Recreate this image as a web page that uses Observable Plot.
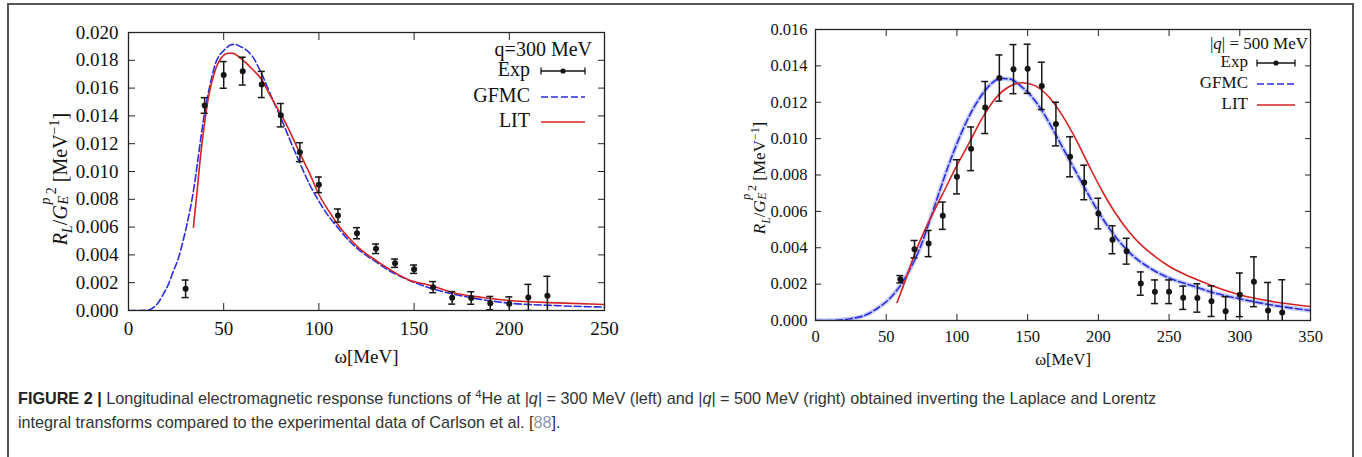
<!DOCTYPE html>
<html>
<head>
<meta charset="utf-8">
<script src="https://cdn.jsdelivr.net/npm/d3@7"></script>
<script src="https://cdn.jsdelivr.net/npm/@observablehq/plot@0.6"></script>
<style>
  html, body { margin: 0; padding: 0; background: #fff; }
  body { width: 1362px; height: 457px; overflow: hidden; position: relative; }
  #frame { position: absolute; left: 7px; top: 3px; width: 1347px; height: 480px; border: 2px solid #555; box-sizing: border-box; }
  .panel { position: absolute; top: 0; }
  .ylab { position: absolute; white-space: nowrap; font-family: 'Liberation Serif', serif; color: #111;
          transform: translate(-50%, -50%) rotate(-90deg); line-height: 1; }
  .ylab sub, .ylab sup { font-size: 0.7em; }
  .ss { display: inline-block; position: relative; width: 0.55em; height: 1em; vertical-align: baseline; }
  .ss i { position: absolute; left: 0.05em; font-size: 0.7em; line-height: 1; }
  .ss .up { top: -0.55em; }
  .ss .dn { top: 0.75em; }
  #caption { position: absolute; left: 18px; top: 382px; font-family: 'Liberation Sans', Arial, sans-serif; font-size: 16.2px;
             line-height: 24px; color: #333; white-space: nowrap; }
  #caption b { color: #222; }
  #caption .ref { color: #8a96a8; }
</style>
</head>
<body>
<div id="frame"></div>
<div id="left" class="panel" style="left:0px"></div>
<div id="right" class="panel" style="left:700px"></div>
<div class="ylab" style="left:60px; top:179px; font-size:20px"><i>R</i><sub><i>L</i></sub>/<i>G</i><span class="ss"><i class="up">p</i><i class="dn">E</i></span><sup style="vertical-align:0.75em">2</sup> [MeV<sup>−1</sup>]</div>
<div class="ylab" style="left:760px; top:178px; font-size:17px"><i>R</i><sub><i>L</i></sub>/<i>G</i><span class="ss"><i class="up">p</i><i class="dn">E</i></span><sup style="vertical-align:0.75em">2</sup> [MeV<sup>−1</sup>]</div>
<div id="caption"><b>FIGURE 2 |</b> Longitudinal electromagnetic response functions of <sup style="font-size:0.7em">4</sup>He at |<i>q</i>| = 300 MeV (left) and |<i>q</i>| = 500 MeV (right) obtained inverting the Laplace and Lorentz<br>integral transforms compared to the experimental data of Carlson et al. [<span class="ref">88</span>].</div>
<script>
// ---------- Left panel data (q = 300 MeV) ----------
const xTicks1 = [0, 50, 100, 150, 200, 250];
const yTicks1 = [0, 0.002, 0.004, 0.006, 0.008, 0.010, 0.012, 0.014, 0.016, 0.018, 0.020];
const expW1 = [30, 40, 50, 60, 70, 80, 90, 100, 110, 120, 130, 140, 150, 160, 170, 180, 190, 200, 210, 220];
const expV1 = [0.00156, 0.01475, 0.01695, 0.01722, 0.01626, 0.01405, 0.01139, 0.00904, 0.00683, 0.00556, 0.00444, 0.0034, 0.00297, 0.00168, 0.00091, 0.0009, 0.00053, 0.00048, 0.00094, 0.00106];
const expE1 = [0.00063, 0.00056, 0.00096, 0.001, 0.00094, 0.00084, 0.00068, 0.00056, 0.00047, 0.0004, 0.00034, 0.0003, 0.0003, 0.0004, 0.00045, 0.00045, 0.00048, 0.0005, 0.00094, 0.0014];
const gfmcW1 = [0, 5, 10, 13, 15.8, 18, 21, 23.5, 26.3, 29, 31.5, 33.5, 35, 36.8, 38.5, 40.2, 42, 43.8, 45.5, 48, 50.8, 53.5, 56, 58.5, 61.3, 65, 70, 75, 80.5, 85, 91, 95, 99.8, 105, 110.3, 116, 122.5, 130, 136.6, 147, 158.6, 170, 185, 200, 225, 250];
const gfmcV1 = [0, 0, 0.00002, 0.0002, 0.0006, 0.0011, 0.0019, 0.0028, 0.0038, 0.0052, 0.0067, 0.0081, 0.0094, 0.0112, 0.0129, 0.0144, 0.0157, 0.0168, 0.0177, 0.0184, 0.0188, 0.0191, 0.01915, 0.019, 0.0188, 0.0183, 0.017, 0.0154, 0.0137, 0.0122, 0.0103, 0.0091, 0.0079, 0.0068, 0.0059, 0.005, 0.0042, 0.0035, 0.0029, 0.0022, 0.0016, 0.0012, 0.0008, 0.00053, 0.00035, 0.00024];
const litW1 = [34.1, 35.9, 37.6, 39.4, 42, 45.5, 49, 52.5, 55, 57.8, 61, 64.8, 70, 73.5, 78, 82.3, 87, 91, 95, 99.8, 105, 110.3, 116, 122.5, 130, 136.6, 147, 158.6, 170, 185, 200, 225, 250];
const litV1 = [0.006, 0.0084, 0.0108, 0.0129, 0.01535, 0.01727, 0.01822, 0.01851, 0.0185, 0.01827, 0.0179, 0.01739, 0.0166, 0.0157, 0.0146, 0.01355, 0.0122, 0.01103, 0.0099, 0.0084, 0.0072, 0.00612, 0.0052, 0.00432, 0.0036, 0.003, 0.00221, 0.0018, 0.0013, 0.00095, 0.00072, 0.00055, 0.00043];

// ---------- Right panel data (|q| = 500 MeV) ----------
const xTicks2 = [0, 50, 100, 150, 200, 250, 300, 350];
const yTicks2 = [0, 0.002, 0.004, 0.006, 0.008, 0.010, 0.012, 0.014, 0.016];
const expW2 = [60, 70, 80, 90, 100, 110, 120, 130, 140, 150, 160, 170, 180, 190, 200, 210, 220, 230, 240, 250, 260, 270, 280, 290, 300, 310, 320, 330];
const expV2 = [0.00227, 0.00392, 0.00423, 0.00576, 0.0079, 0.00944, 0.01171, 0.01333, 0.01382, 0.01384, 0.0129, 0.0108, 0.009, 0.00759, 0.00588, 0.00444, 0.00381, 0.00203, 0.00158, 0.00158, 0.00125, 0.00124, 0.00106, 0.00051, 0.00141, 0.00213, 0.00055, 0.00044];
const expE2 = [0.0002, 0.00048, 0.00072, 0.00075, 0.00094, 0.0012, 0.00143, 0.00127, 0.00135, 0.00135, 0.0013, 0.0012, 0.0011, 0.00095, 0.00084, 0.00077, 0.00071, 0.00064, 0.00065, 0.00065, 0.00064, 0.00078, 0.00084, 0.0008, 0.0012, 0.00137, 0.00154, 0.0018];
const gfmcW2 = [0, 10, 24.7, 34.2, 43.6, 53, 60.1, 67.1, 74.2, 81.3, 88.4, 95.4, 102.5, 109.6, 116.7, 123.7, 130.8, 137.9, 145, 152, 159.1, 166.2, 173.2, 180.3, 187.4, 194.5, 201.5, 208.6, 215.7, 222.8, 236.9, 251, 265.2, 280, 300, 325, 350];
const gfmcV2 = [0, 0, 0.0001, 0.00026, 0.00066, 0.00125, 0.00194, 0.00286, 0.00405, 0.00561, 0.00726, 0.00881, 0.01019, 0.01138, 0.0123, 0.01298, 0.01331, 0.01327, 0.0129, 0.01239, 0.01166, 0.01074, 0.00973, 0.00872, 0.00771, 0.00671, 0.00579, 0.00497, 0.00427, 0.00368, 0.00286, 0.00231, 0.00194, 0.00156, 0.00119, 0.00082, 0.00055];
const litW2 = [57.7, 63.6, 70.7, 80.1, 89.5, 98.9, 108.4, 117.8, 127.2, 136.7, 146.1, 155.5, 164.9, 174.4, 183.8, 193.2, 202.7, 212.1, 221.5, 231, 240.4, 250, 265, 280, 300, 325, 350];
const litV2 = [0.00099, 0.00222, 0.00378, 0.00543, 0.00689, 0.00836, 0.00973, 0.01111, 0.01221, 0.01285, 0.01307, 0.0129, 0.0123, 0.01129, 0.01001, 0.00854, 0.00712, 0.0059, 0.0049, 0.0041, 0.0035, 0.00298, 0.0024, 0.00193, 0.00142, 0.00102, 0.00077];

const zip2 = (W, V) => W.map((w, i) => ({w, v: V[i]}));
const zip3 = (W, V, E) => W.map((w, i) => ({w, v: V[i], e: E[i]}));

const BLUE = "#2a2ee0", RED = "#d42222", INK = "#151515";

function panel(cfg) {
  const exp = zip3(cfg.expW, cfg.expV, cfg.expE);
  const gfmc = zip2(cfg.gW, cfg.gV);
  const lit = zip2(cfg.lW, cfg.lV);
  const marks = [];
  if (cfg.band) marks.push(Plot.line(gfmc, {x: "w", y: "v", stroke: "#9aa4f4", strokeOpacity: 0.55, strokeWidth: 4.5, curve: "monotone-x", clip: true}));
  marks.push(
    Plot.line(gfmc, {x: "w", y: "v", stroke: BLUE, strokeWidth: 1.6, strokeDasharray: "7,3", curve: "monotone-x", clip: true}),
    Plot.line(lit, {x: "w", y: "v", stroke: RED, strokeWidth: 1.6, curve: "monotone-x", clip: true}),
    Plot.ruleX(exp, {x: "w", y1: d => d.v - d.e, y2: d => d.v + d.e, stroke: INK, strokeWidth: 1.5, clip: true}),
    Plot.ruleY(exp, {y: d => d.v + d.e, x1: "w", x2: "w", insetLeft: -3.5, insetRight: -3.5, stroke: INK, strokeWidth: 1.5, clip: true}),
    Plot.ruleY(exp, {y: d => d.v - d.e, x1: "w", x2: "w", insetLeft: -3.5, insetRight: -3.5, stroke: INK, strokeWidth: 1.5, clip: true}),
    Plot.dot(exp, {x: "w", y: "v", r: 3, fill: INK, stroke: null}),
    Plot.frame({stroke: "#222", strokeWidth: 1.3}),
    Plot.axisX({ticks: cfg.xTicks, tickSize: -cfg.tick, tickPadding: cfg.xPad, tickFormat: d3.format("d"), label: "ω[MeV]", labelAnchor: "center", labelOffset: cfg.labelOffset, labelArrow: "none", stroke: "#222"}),
    Plot.axisX({anchor: "top", ticks: cfg.xTicks, tickSize: -cfg.tick, tickFormat: () => "", label: null, stroke: "#222"}),
    Plot.axisY({ticks: cfg.yTicks, tickSize: -cfg.tick, tickPadding: cfg.yPad, tickFormat: d3.format(".3f"), label: null, stroke: "#222"}),
    Plot.axisY({anchor: "right", ticks: cfg.yTicks, tickSize: -cfg.tick, tickFormat: () => "", label: null, stroke: "#222"})
  );
  const svg = Plot.plot({
    width: cfg.width, height: cfg.height,
    marginLeft: cfg.ml, marginRight: cfg.mr, marginTop: cfg.mt, marginBottom: cfg.mb,
    x: {domain: cfg.xDomain},
    y: {domain: cfg.yDomain},
    style: {fontFamily: "'Liberation Serif', serif", fontSize: cfg.font + "px", color: "#111", background: "transparent", overflow: "visible"},
    marks
  });
  // legend (inside top-right of the frame)
  const g = d3.select(svg).append("g").attr("font-family", "'Liberation Serif', serif").attr("font-size", cfg.lfont).attr("fill", "#111");
  const L = cfg.legend;
  g.append("text").attr("x", L.titleX).attr("y", L.titleY).attr("text-anchor", "end").attr("dominant-baseline", "middle").html(cfg.title);
  const rows = [["Exp", "exp"], ["GFMC", "gfmc"], ["LIT", "lit"]];
  rows.forEach(([name, kind], i) => {
    const y = L.rowY[i];
    g.append("text").attr("x", L.textX).attr("y", y).attr("text-anchor", "end").attr("dominant-baseline", "middle").text(name);
    if (kind === "exp") {
      g.append("line").attr("x1", L.s0).attr("x2", L.s1).attr("y1", y).attr("y2", y).attr("stroke", INK).attr("stroke-width", 1.3);
      [L.s0, L.s1].forEach(x => g.append("line").attr("x1", x).attr("x2", x).attr("y1", y - 3.5).attr("y2", y + 3.5).attr("stroke", INK).attr("stroke-width", 1.3));
      g.append("circle").attr("cx", (L.s0 + L.s1) / 2).attr("cy", y).attr("r", 2.6).attr("fill", INK);
    } else if (kind === "gfmc") {
      g.append("line").attr("x1", L.s0).attr("x2", L.s1).attr("y1", y).attr("y2", y).attr("stroke", BLUE).attr("stroke-width", 1.6).attr("stroke-dasharray", "7,3");
    } else {
      g.append("line").attr("x1", L.s0).attr("x2", L.s1).attr("y1", y).attr("y2", y).attr("stroke", RED).attr("stroke-width", 1.6);
    }
  });
  return svg;
}

document.getElementById("left").appendChild(panel({
  width: 680, height: 372, ml: 128, mr: 76, mt: 32, mb: 62,
  xDomain: [0, 250], yDomain: [0, 0.02], xTicks: xTicks1, yTicks: yTicks1,
  tick: 7, xPad: 18, yPad: 17, labelOffset: 52, font: 19, lfont: 20,
  expW: expW1, expV: expV1, expE: expE1, gW: gfmcW1, gV: gfmcV1, lW: litW1, lV: litV1, band: false,
  title: "q=300 MeV",
  legend: {titleX: 592, titleY: 51, textX: 530, rowY: [71, 97, 122], s0: 541, s1: 585}
}));

document.getElementById("right").appendChild(panel({
  width: 662, height: 372, ml: 115, mr: 52, mt: 29, mb: 52,
  xDomain: [0, 350], yDomain: [0, 0.016], xTicks: xTicks2, yTicks: yTicks2,
  tick: 6, xPad: 16, yPad: 14, labelOffset: 44, font: 16.5, lfont: 17,
  expW: expW2, expV: expV2, expE: expE2, gW: gfmcW2, gV: gfmcV2, lW: litW2, lV: litV2, band: true,
  title: "|<tspan font-style='italic'>q</tspan>| = 500 MeV",
  legend: {titleX: 608, titleY: 45, textX: 548, rowY: [63, 84, 105], s0: 557, s1: 595}
}));
</script>
</body>
</html>
